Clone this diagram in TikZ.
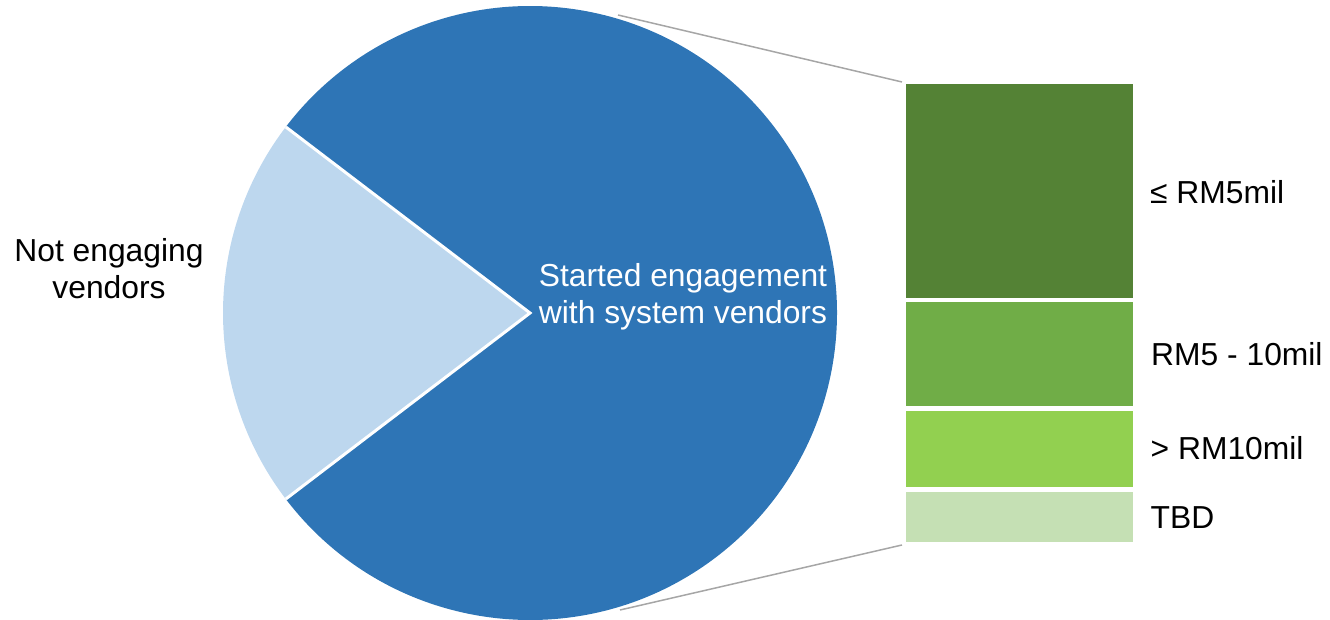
\documentclass[tikz,border=0pt]{standalone}
\usepackage{fontspec}
\setmainfont{Liberation Sans}
\usetikzlibrary{calc}
\definecolor{pieDark}{HTML}{2E75B6}
\definecolor{pieLight}{HTML}{BDD7EE}
\definecolor{barA}{HTML}{548235}
\definecolor{barB}{HTML}{70AD47}
\definecolor{barC}{HTML}{92D050}
\definecolor{barD}{HTML}{C5E0B4}
\definecolor{leader}{HTML}{A6A6A6}
\begin{document}
\begin{tikzpicture}[x=1pt,y=1pt,
  lbl/.style={font=\fontsize{31.8}{36.6}\selectfont, inner sep=0pt},
  barbox/.style={rectangle, inner sep=0pt, minimum width=226.6pt, anchor=north west},
  sep/.style={draw=white, line width=3pt},
  leaderline/.style={draw=leader, line width=1.5pt}]
\useasboundingbox (0,0) rectangle (1330,620);

% pie centre and slice boundary points
\coordinate (c) at (530,307);
\coordinate (p1) at ($(c)+(142.7:307)$);
\coordinate (p2) at ($(c)+(217.3:307)$);

% large slice
\fill[pieDark] (c) -- (p2) arc[start angle=217.3, end angle=502.7, radius=307pt] -- cycle;
% small slice
\fill[pieLight] (c) -- (p1) arc[start angle=142.7, end angle=217.3, radius=307pt] -- cycle;
% white slice borders
\draw[sep] (p1) -- (c) -- (p2);

% breakdown bar
\node[barbox, fill=barA, minimum height=213.4pt] (b1) at (905.7,535.7) {};
\node[barbox, fill=barB, minimum height=103.4pt] (b2) at (905.7,317.7) {};
\node[barbox, fill=barC, minimum height=76.6pt]  (b3) at (905.7,209.3) {};
\node[barbox, fill=barD, minimum height=49.4pt]  (b4) at (905.7,127.7) {};

% leader lines from pie to bar
\coordinate (t0) at (618,605);
\coordinate (t1) at (902,538);
\coordinate (u0) at (620,10);
\coordinate (u1) at (902,75);
\draw[leaderline] (t0) -- (t1);
\draw[leaderline] (u0) -- (u1);

% labels (two-line labels are placed by the baseline of their last line)
\node[lbl, anchor=base, align=center] (ln) at (109,321.7) {Not engaging\\vendors};
\node[lbl, anchor=base, align=center, text=white] (ls) at (683,296.7) {Started engagement\\with system vendors};
\node[lbl, anchor=base west] (l1) at (1150,416.7) {≤ RM5mil};
\node[lbl, anchor=base west] (l2) at (1151,254) {RM5 - 10mil};
\node[lbl, anchor=base west] (l3) at (1150.5,160) {> RM10mil};
\node[lbl, anchor=base west] (l4) at (1150.5,91.7) {TBD};
\end{tikzpicture}
\end{document}
